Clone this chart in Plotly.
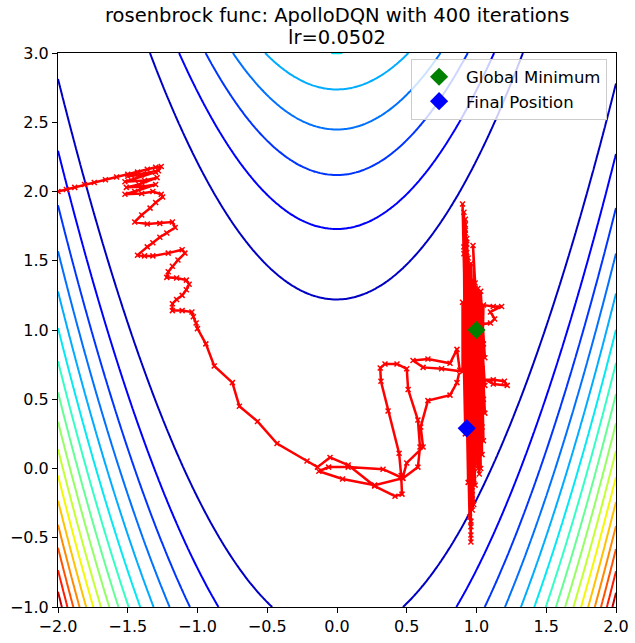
import numpy as np
import plotly.graph_objects as go

# ---- data -----------------------------------------------------------------
x_range = [-2.0, 2.0]
y_range = [-1.0, 3.0]
levels_start, levels_end, levels_step = 150, 2400, 150
color_norm_max = 2550  # top of the level locator range that sets the colour norm
global_min = (1.0, 1.0)

seg_start = [(-2.00, 2.00), (-1.94, 2.015), (-1.88, 2.03), (-1.81, 2.05), (-1.74, 2.065),
             (-1.66, 2.085), (-1.58, 2.105), (-1.50, 2.125), (-1.43, 2.14), (-1.36, 2.16),
             (-1.30, 2.175), (-1.26, 2.18)]
seg_cluster = [(-1.28, 2.15), (-1.50, 2.11), (-1.40, 2.12), (-1.30, 2.14), (-1.45, 2.09),
               (-1.52, 2.07), (-1.38, 2.08), (-1.29, 2.10), (-1.42, 2.05), (-1.51, 2.03),
               (-1.40, 2.035), (-1.30, 2.05), (-1.45, 2.00), (-1.52, 1.98), (-1.40, 1.985),
               (-1.32, 2.00), (-1.26, 1.98), (-1.25, 1.96)]
seg_zigzag = [(-1.30, 1.92), (-1.34, 1.88), (-1.40, 1.83), (-1.45, 1.78), (-1.36, 1.765),
              (-1.27, 1.77), (-1.18, 1.78), (-1.16, 1.74), (-1.22, 1.70), (-1.27, 1.67),
              (-1.32, 1.63), (-1.36, 1.60), (-1.43, 1.54), (-1.38, 1.535), (-1.32, 1.535),
              (-1.21, 1.555), (-1.11, 1.58), (-1.09, 1.555), (-1.14, 1.505), (-1.18, 1.46),
              (-1.21, 1.42), (-1.22, 1.38), (-1.15, 1.375), (-1.08, 1.36), (-1.06, 1.33),
              (-1.08, 1.29), (-1.11, 1.25), (-1.15, 1.22), (-1.18, 1.19), (-1.18, 1.14),
              (-1.11, 1.14), (-1.04, 1.13), (-1.03, 1.095), (-1.01, 1.05), (-1.00, 1.01)]
seg_descent = [(-0.94, 0.90), (-0.88, 0.74), (-0.75, 0.62), (-0.70, 0.45), (-0.57, 0.34),
               (-0.43, 0.18), (-0.215, 0.054), (-0.14, 0.01)]
seg_loops = [(-0.05, 0.08), (0.08, 0.025), (0.27, -0.127), (0.416, -0.20), (0.466, -0.185),
             (0.46, -0.05), (0.445, 0.11), (0.366, 0.415), (0.315, 0.63), (0.31, 0.725),
             (0.344, 0.755), (0.43, 0.755), (0.50, 0.72), (0.51, 0.57), (0.58, 0.35),
             (0.595, 0.155), (0.58, 0.01), (0.473, -0.07), (0.33, -0.005), (0.08, 0.01),
             (-0.06, 0.01), (-0.13, -0.02), (0.04, -0.076), (0.27, -0.12), (0.47, -0.07),
             (0.50, 0.04), (0.617, 0.155), (0.60, 0.30), (0.652, 0.49), (0.81, 0.53),
             (0.86, 0.62), (0.88, 0.71), (0.86, 0.86), (0.81, 0.76), (0.652, 0.79),
             (0.545, 0.78), (0.617, 0.73), (0.75, 0.72), (0.90, 0.70)]
seg_band = [(0.90, 1.20), (0.92, 0.25), (0.91, 1.55), (0.94, -0.10), (0.91, 1.85), (0.95, -0.35),
            (0.90, 1.91), (0.96, -0.48), (0.92, 1.72), (0.97, -0.22), (0.93, 1.62), (0.99, 0.05),
            (0.96, 1.48), (1.01, 0.30), (0.97, 1.36), (1.02, 0.50), (0.99, 1.30), (1.04, 0.72),
            (1.05, 1.18), (1.12, 1.17), (1.18, 1.17), (1.10, 1.13), (1.13, 1.08), (1.10, 1.05),
            (1.03, 1.04), (0.99, 0.80), (0.93, 1.42), (1.00, 0.10), (0.92, 1.76), (0.97, -0.30),
            (0.91, 1.60), (0.96, -0.53), (0.93, 1.50), (0.99, -0.12), (0.95, 1.35), (1.01, 0.15),
            (0.97, 1.26), (1.02, 0.40), (1.04, 0.64), (1.12, 0.64), (1.20, 0.63), (1.22, 0.60),
            (1.12, 0.61), (1.03, 0.66), (0.97, 1.12), (1.03, 0.20), (0.94, 1.52), (1.02, -0.04),
            (0.93, 1.66), (0.98, -0.26), (0.92, 1.80), (0.96, -0.42), (0.94, 1.46), (1.01, 0.00),
            (0.95, 1.32), (1.03, 0.24), (0.975, 1.61), (1.04, 0.46), (0.98, 1.10), (1.04, 0.58),
            (0.99, 1.00), (1.03, 0.76), (1.00, 0.92), (1.02, 0.84), (0.97, 1.18), (1.01, 0.40),
            (0.95, 1.38), (0.99, 0.02), (0.93, 1.56), (0.97, -0.16), (0.92, 1.70), (0.96, -0.38),
            (0.93, 1.44), (0.98, -0.08), (0.95, 1.28), (1.00, 0.12), (0.96, 1.16), (1.02, 0.34),
            (1.05, 0.90), (1.01, 1.30), (1.04, 0.30), (1.00, 1.25), (1.06, 0.60), (1.02, 1.20),
            (1.04, 0.10), (0.99, 1.34), (1.03, 0.00), (1.02, 1.00), (1.06, 0.40), (1.03, 1.10),
            (1.05, 0.20), (1.01, 1.22), (1.06, 0.80), (1.03, 1.28), (1.05, 0.50),
            (0.98, 1.04), (1.03, 0.52), (0.99, 0.94), (0.93, 0.29)]

path = seg_start + seg_cluster + seg_zigzag + seg_descent + seg_loops + seg_band
path_x = [p[0] for p in path]
path_y = [p[1] for p in path]

x_ticks = [-2.0, -1.5, -1.0, -0.5, 0.0, 0.5, 1.0, 1.5, 2.0]
y_ticks = [-1.0, -0.5, 0.0, 0.5, 1.0, 1.5, 2.0, 2.5, 3.0]
title_line1 = "rosenbrock func: ApolloDQN with 400 iterations"
title_line2 = "lr=0.0502"

# ---- surface --------------------------------------------------------------
gx = np.linspace(x_range[0], x_range[1], 250)
gy = np.linspace(y_range[0], y_range[1], 250)
GX, GY = np.meshgrid(gx, gy)
GZ = (1 - GX) ** 2 + 100 * (GY - GX ** 2) ** 2

# matplotlib 'jet' colormap, normalised over 0..color_norm_max
def _interp(seg, t):
    xs = [s[0] for s in seg]
    vs = [s[1] for s in seg]
    return float(np.interp(t, xs, vs))

jet_r = [(0, 0), (0.35, 0), (0.66, 1), (0.89, 1), (1, 0.5)]
jet_g = [(0, 0), (0.125, 0), (0.375, 1), (0.64, 1), (0.91, 0), (1, 0)]
jet_b = [(0, 0.5), (0.11, 1), (0.34, 1), (0.65, 0), (1, 0)]
jet_scale = []
for tp in np.linspace(0, 1, 91):
    level = levels_start + tp * (levels_end - levels_start)
    t = level / color_norm_max
    r, g, b = (_interp(jet_r, t), _interp(jet_g, t), _interp(jet_b, t))
    jet_scale.append([float(tp), f"rgb({int(round(r*255))},{int(round(g*255))},{int(round(b*255))})"])

fig = go.Figure()
fig.add_trace(go.Contour(
    x=gx, y=gy, z=GZ,
    contours=dict(start=levels_start, end=levels_end, size=levels_step, coloring="lines"),
    colorscale=jet_scale, showscale=False, line=dict(width=2),
    hoverinfo="skip", showlegend=False,
))
fig.add_trace(go.Scatter(
    x=path_x, y=path_y, mode="lines+markers",
    line=dict(color="red", width=2.5),
    marker=dict(symbol="x-thin", size=5, line=dict(color="red", width=1.5)),
    showlegend=False,
))
fig.add_trace(go.Scatter(
    x=[global_min[0]], y=[global_min[1]], mode="markers", name="Global Minimum",
    marker=dict(symbol="diamond", size=14, color="green"),
))
fig.add_trace(go.Scatter(
    x=[path_x[-1]], y=[path_y[-1]], mode="markers", name="Final Position",
    marker=dict(symbol="diamond", size=14, color="blue"),
))

axis_common = dict(
    showgrid=False, zeroline=False, showline=True, linecolor="black", linewidth=1,
    mirror=True, ticks="outside", ticklen=5, tickwidth=1, tickcolor="black",
    automargin=False,
    tickfont=dict(family="DejaVu Sans", size=16, color="black"),
)
title_font = dict(family="DejaVu Sans", size=19.5, color="black")
fig.update_layout(
    width=635, height=643,
    autosize=False,
    margin=dict(l=58, r=19, t=53, b=36, pad=0),
    paper_bgcolor="white", plot_bgcolor="white",
    xaxis=dict(range=x_range, tickvals=x_ticks, tickformat=".1f", **axis_common),
    yaxis=dict(range=y_range, tickvals=y_ticks, tickformat=".1f", **axis_common),
    legend=dict(x=0.984, y=0.99, xanchor="right", yanchor="top",
                bgcolor="rgba(255,255,255,0.8)", bordercolor="#cccccc", borderwidth=1,
                itemwidth=44,
                font=dict(family="DejaVu Sans", size=16.5, color="black")),
    showlegend=True,
    annotations=[
        dict(text=title_line1, x=0.5, xref="paper", xanchor="center",
             y=1, yref="paper", yanchor="middle", yshift=38, showarrow=False, font=title_font),
        dict(text=title_line2, x=0.5, xref="paper", xanchor="center",
             y=1, yref="paper", yanchor="middle", yshift=16, showarrow=False, font=title_font),
    ],
)
fig.write_html("out.html")
